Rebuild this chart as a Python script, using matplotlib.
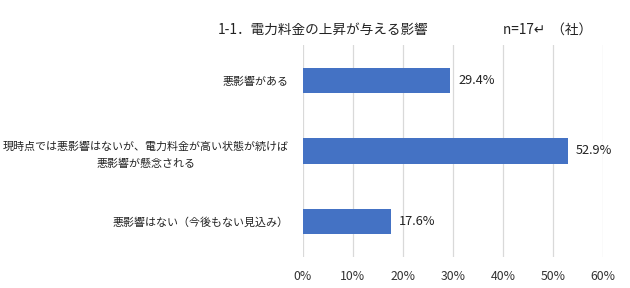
import matplotlib
matplotlib.use('Agg')
import matplotlib.pyplot as plt

plt.rcParams['font.family'] = ['Noto Sans CJK JP', 'DejaVu Sans']

# Data
categories = ['悪影響がある',
              '現時点では悪影響はないが、電力料金が高い状態が続けば\n悪影響が懸念される',
              '悪影響はない（今後もない見込み）']
values = [29.4, 52.9, 17.6]
ticks = [0, 10, 20, 30, 40, 50, 60]

fig = plt.figure(figsize=(6.3, 2.88), dpi=100)
ax = fig.add_axes([0.4805, 0.1076, 0.4771, 0.7362])

ypos = range(len(categories))
ax.barh(ypos, values, height=0.354, color='#4472C4', zorder=3)

for y, v in zip(ypos, values):
    ax.text(v + 1.6, y, f'{v:.1f}%', va='center', ha='left', fontsize=9.2, color='#222222')

ax.set_xlim(0, 60)
ax.set_ylim(2.5, -0.5)
ax.set_xticks(ticks)
ax.set_xticklabels([f'{t}%' for t in ticks], fontsize=8.8, color='#333333')
ax.set_yticks(list(ypos))
ax.set_yticklabels(categories, fontsize=7.9, color='#222222',
                   multialignment='center', linespacing=1.75)
ax.tick_params(axis='both', length=0)
ax.tick_params(axis='y', pad=10)
ax.tick_params(axis='x', pad=9)
ax.grid(axis='x', color='#D9D9D9', linewidth=0.9, zorder=0)
for s in ax.spines.values():
    s.set_visible(False)

fig.text(323 / 630, 1 - 30 / 288, '1-1．電力料金の上昇が与える影響', ha='center', va='center',
         fontsize=9.8, color='#222222')
fig.text(503 / 630, 1 - 30 / 288, 'n=17↵  （社）', ha='left', va='center',
         fontsize=9.8, color='#222222')

plt.savefig('out.png', dpi=100)
